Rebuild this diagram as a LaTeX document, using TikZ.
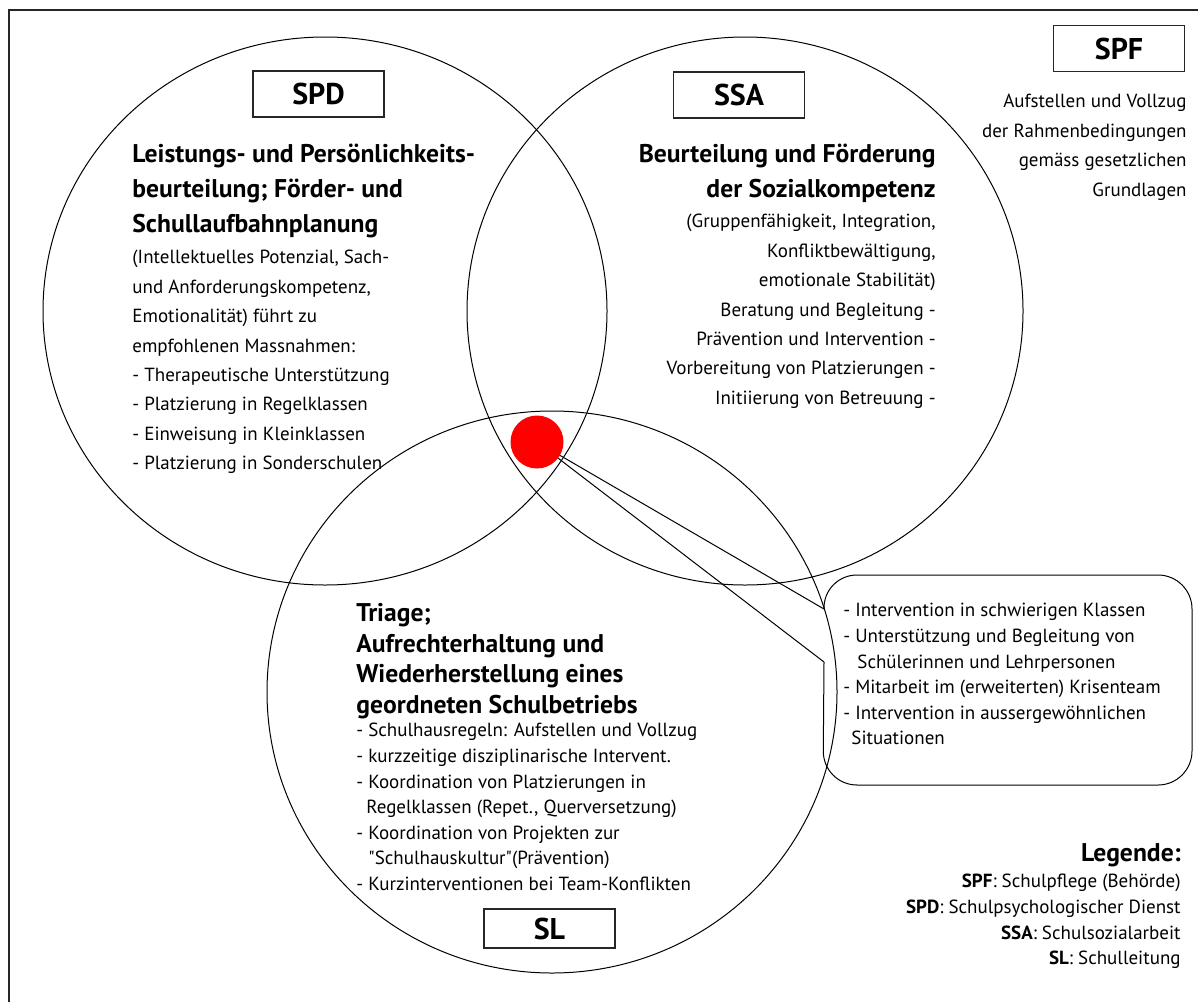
\documentclass[tikz,border=0pt]{standalone}
\usepackage{fontspec}
\setmainfont{PT Sans}[Ligatures=TeXOff]
\usepackage{tikz}

\begin{document}
\begin{tikzpicture}[
    x=0.5pt, y=-0.5pt,
    frame/.style={draw=black!85, line width=0.85pt},
    set/.style={draw=black, line width=0.5pt},
    tag/.style={rectangle, draw=black!85, line width=0.6pt, minimum width=65.5pt, minimum height=23pt, inner sep=0pt, font=\fontsize{15pt}{16pt}\selectfont\bfseries},
    head/.style={inner sep=0pt, font=\fontsize{12.8pt}{17.5pt}\selectfont\bfseries},
    body/.style={inner sep=0pt, font=\fontsize{9.5pt}{14.7pt}\selectfont},
    list/.style={inner sep=0pt, font=\fontsize{9.5pt}{12.8pt}\selectfont},
    reddot/.style={circle, fill=red, inner sep=0pt, minimum size=26.5pt},
    callout/.style={draw=black, line width=0.5pt}
]
\useasboundingbox (0,0) rectangle (1198,1001);

% page frame
\draw[frame] (9,1020) -- (9,10) -- (1220,10);

% the three sets
\draw[set] (325,311) ellipse [x radius=141pt, y radius=137pt];
\draw[set] (745,311) ellipse [x radius=139pt, y radius=137pt];
\draw[set] (552,692) ellipse [x radius=142.5pt, y radius=140.5pt];

% labels of the sets
\node[tag] (spd) at (318.5,94) {SPD};
\node[tag] (ssa) at (739,95) {SSA};
\node[tag] (spf) at (1119,48.5) {SPF};
\node[tag, minimum height=19.5pt] (sl) at (549.5,928.5) {SL};

% SPD
\node[head, anchor=north west, align=left] (spdhead) at (132,144)
    {Leistungs- und Persönlichkeits-\\beurteilung; Förder- und\\Schullaufbahnplanung};
\node[body, anchor=north west, align=left] (spdbody) at (132,250)
    {(Intellektuelles Potenzial, Sach-\\und Anforderungskompetenz,\\Emotionalität) führt zu\\empfohlenen Massnahmen:\\- Therapeutische Unterstützung\\- Platzierung in Regelklassen\\- Einweisung in Kleinklassen\\- Platzierung in Sonderschulen};

% SSA
\node[head, anchor=north east, align=right] (ssahead) at (936,144)
    {Beurteilung und Förderung\\der Sozialkompetenz};
\node[body, anchor=north east, align=right] (ssabody) at (936,214)
    {(Gruppenfähigkeit, Integration,\\Konfliktbewältigung,\\emotionale Stabilität)\\Beratung und Begleitung -\\Prävention und Intervention -\\Vorbereitung von Platzierungen -\\Initiierung von Betreuung -};

% SPF
\node[body, anchor=north east, align=right] (spftext) at (1187,94)
    {Aufstellen und Vollzug\\der Rahmenbedingungen\\gemäss gesetzlichen\\Grundlagen};

% SL
\node[head, anchor=north west, align=left, font=\fontsize{12.8pt}{15.3pt}\selectfont\bfseries] (slhead) at (356,603)
    {Triage;\\Aufrechterhaltung und\\Wiederherstellung eines\\geordneten Schulbetriebs};
\node[list, anchor=north west, align=left] (sllist) at (356,723)
    {- Schulhausregeln: Aufstellen und Vollzug\\- kurzzeitige disziplinarische Intervent.\\- Koordination von Platzierungen in\\\hspace*{5pt}Regelklassen (Repet., Querversetzung)\\- Koordination von Projekten zur\\\hspace*{6pt}"Schulhauskultur"(Prävention)\\- Kurzinterventionen bei Team-Konflikten};

% callout from the common point
\coordinate (focus) at (537,442);
\coordinate (tipa) at (824,609);
\coordinate (tipb) at (824,662);
\draw[callout] (tipa) -- (focus) -- (tipb);
\draw[callout, rounded corners=17pt] (tipb) -- (823,785) -- (1192,785) -- (1192,575) -- (823,575) -- (tipa);
\node[reddot] (dot) at (focus) {};
\node[list, anchor=north west, align=left] (calltext) at (843,603)
    {- Intervention in schwierigen Klassen\\- Unterstützung und Begleitung von\\\hspace*{7pt}Schülerinnen und Lehrpersonen\\- Mitarbeit im (erweiterten) Krisenteam\\- Intervention in aussergewöhnlichen\\\hspace*{4pt}Situationen};

% legend
\node[head, anchor=north east] (legtitle) at (1181,843) {Legende:};
\node[list, anchor=north east, align=right] (legbody) at (1181,874)
    {\textbf{SPF}: Schulpflege (Behörde)\\\textbf{SPD}: Schulpsychologischer Dienst\\\textbf{SSA}: Schulsozialarbeit\\\textbf{SL}: Schulleitung};

\end{tikzpicture}
\end{document}
